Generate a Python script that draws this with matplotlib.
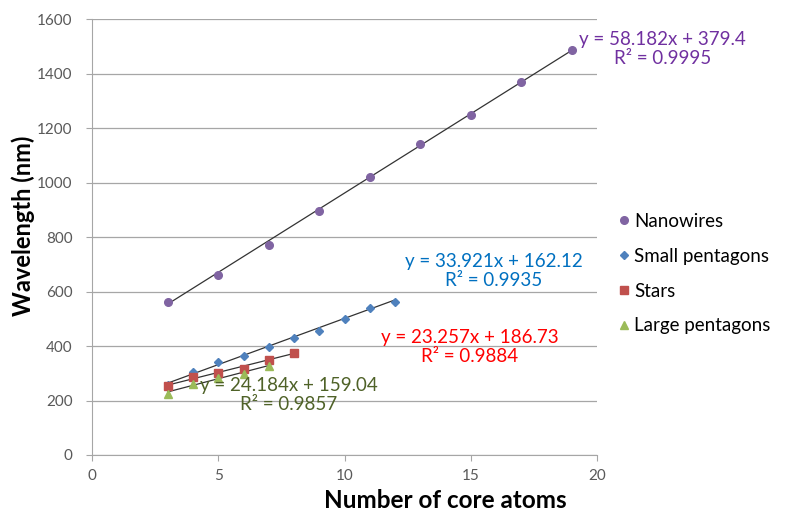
import numpy as np
import matplotlib
matplotlib.use('Agg')
import matplotlib.pyplot as plt

plt.rcParams['font.family'] = ['Lato', 'DejaVu Sans']

# data
nano_x = [3, 5, 7, 9, 11, 13, 15, 17, 19]
nano_y = [560, 660, 772, 897, 1022, 1143, 1249, 1367, 1485]

small_x = [3, 4, 5, 6, 7, 8, 9, 10, 11, 12]
small_y = [258, 303, 340, 364, 396, 431, 455, 500, 540, 560]

star_x = [3, 4, 5, 6, 7, 8]
star_y = [253, 285, 302, 316, 350, 373]

large_x = [3, 4, 5, 6, 7]
large_y = [225, 260, 281, 299, 325]

# trendline coefficients (slope, intercept, r2) as printed on the chart
nano_fit = (58.182, 379.4, 0.9995)
small_fit = (33.921, 162.12, 0.9935)
star_fit = (23.257, 186.73, 0.9884)
large_fit = (24.184, 159.04, 0.9857)

fig = plt.figure(figsize=(7.87, 5.16), dpi=100)
ax = fig.add_axes([92/787, 1 - 455/516, (597 - 92)/787, (455 - 19)/516])

series = [
    ('Nanowires', nano_x, nano_y, nano_fit, 'o', '#8064A2', 5.5, '#7030A0'),
    ('Small pentagons', small_x, small_y, small_fit, 'D', '#4F81BD', 4, '#0070C0'),
    ('Stars', star_x, star_y, star_fit, 's', '#C0504D', 5.5, '#FF0000'),
    ('Large pentagons', large_x, large_y, large_fit, '^', '#9BBB59', 5.5, '#4F6228'),
]

# label positions (data coords, centre of the two-line text)
label_pos = [(22.6, 1490), (15.9, 674), (14.95, 396), (7.8, 220)]

for (name, xs, ys, fit, mk, col, ms, tcol), (lx, ly) in zip(series, label_pos):
    ax.plot(xs, ys, linestyle='none', marker=mk, color=col, ms=ms,
            markeredgecolor=col, label=name, zorder=3)
    xx = np.array([xs[0], xs[-1]])
    ax.plot(xx, fit[0] * xx + fit[1], color='#333333', lw=0.9, zorder=2)
    ax.text(lx, ly, 'y = %sx + %s\nR² = %s' % (fit[0], fit[1], fit[2]),
            color=tcol, fontsize=13.5, ha='center', va='center',
            multialignment='center', linespacing=1.15, clip_on=False, zorder=4)

ax.set_xlim(0, 20)
ax.set_ylim(0, 1600)
ax.set_xticks([0, 5, 10, 15, 20])
ax.set_yticks(range(0, 1601, 200))
ax.yaxis.grid(True, color='#A6A6A6', lw=0.9)
ax.set_axisbelow(True)
for s in ['top', 'right']:
    ax.spines[s].set_visible(False)
for s in ['left', 'bottom']:
    ax.spines[s].set_color('#A6A6A6')
ax.tick_params(colors='#A6A6A6', labelcolor='#595959', labelsize=11, length=4)
ax.tick_params(axis='y', pad=10)
ax.tick_params(axis='x', pad=6)

ax.set_xlabel('Number of core atoms', fontsize=17.5, fontweight='bold')
ax.xaxis.set_label_coords(0.7, -0.078)
ax.set_ylabel('Wavelength (nm)', fontsize=17, fontweight='bold')
ax.yaxis.set_label_coords(-0.112, 0.525)

ax.legend(loc='upper left', bbox_to_anchor=(1.035, 0.555), frameon=False,
          fontsize=13.5, handletextpad=0.05, labelspacing=0.95, handlelength=1.0,
          borderaxespad=0, borderpad=0)

fig.savefig('out.png', dpi=100)
